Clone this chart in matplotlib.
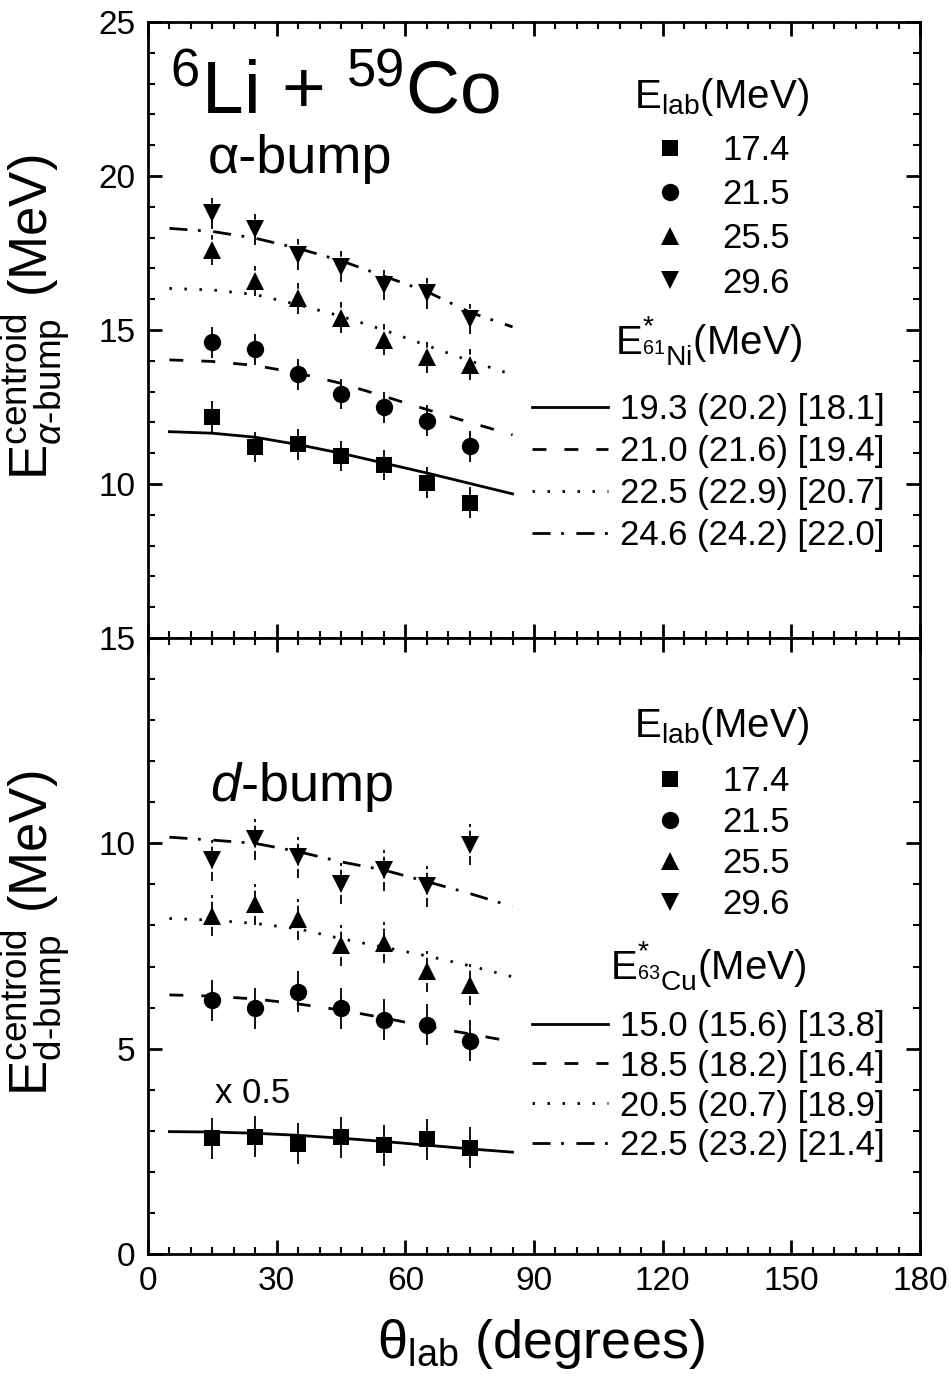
import numpy as np
import matplotlib
matplotlib.use('Agg')
import matplotlib.pyplot as plt
from matplotlib.ticker import MultipleLocator

plt.rcParams['font.family'] = ['Liberation Sans', 'DejaVu Sans']
plt.rcParams['mathtext.fontset'] = 'custom'
plt.rcParams['mathtext.rm'] = 'Liberation Sans'
plt.rcParams['mathtext.it'] = 'Liberation Sans:italic'
plt.rcParams['mathtext.bf'] = 'Liberation Sans:bold'

# lab angles of the data points and of the model curves
angles = [15, 25, 35, 45, 55, 65, 75]
theory_angles = [5, 15, 25, 35, 45, 55, 65, 75, 85]
e_lab = ['17.4', '21.5', '25.5', '29.6']

# alpha-bump centroids (MeV)
alpha_174 = [12.18, 11.20, 11.29, 10.91, 10.62, 10.04, 9.39]
alpha_215 = [14.60, 14.38, 13.56, 12.92, 12.49, 12.05, 11.23]
alpha_255 = [17.60, 16.59, 16.03, 15.40, 14.68, 14.11, 13.87]
alpha_296 = [18.79, 18.27, 17.44, 17.06, 16.46, 16.19, 15.36]
alpha_err = [0.5, 0.5, 0.5, 0.5, 0.5, 0.5, 0.5]

# alpha-bump model curves
alpha_th_193 = [11.70, 11.65, 11.52, 11.28, 11.00, 10.68, 10.36, 10.02, 9.68]
alpha_th_210 = [14.03, 13.98, 13.85, 13.60, 13.27, 12.85, 12.42, 12.00, 11.60]
alpha_th_225 = [16.35, 16.30, 16.15, 15.82, 15.45, 15.00, 14.50, 14.00, 13.55]
alpha_th_246 = [18.30, 18.20, 17.98, 17.65, 17.25, 16.75, 16.25, 15.58, 15.10]
alpha_th_labels = ['19.3 (20.2) [18.1]', '21.0 (21.6) [19.4]',
                   '22.5 (22.9) [20.7]', '24.6 (24.2) [22.0]']

# d-bump centroids (MeV), 17.4 MeV set scaled by 0.5
d_174 = [2.82, 2.86, 2.69, 2.84, 2.65, 2.79, 2.59]
d_215 = [6.18, 5.98, 6.39, 5.98, 5.70, 5.58, 5.19]
d_255 = [8.24, 8.52, 8.15, 7.52, 7.58, 6.88, 6.56]
d_296 = [9.59, 10.10, 9.66, 9.02, 9.35, 8.96, 9.97]
d_err = [0.5, 0.5, 0.5, 0.5, 0.5, 0.5, 0.5]

# d-bump model curves
d_th_150 = [2.98, 2.97, 2.94, 2.89, 2.82, 2.74, 2.65, 2.56, 2.48]
d_th_185 = [6.31, 6.28, 6.21, 6.09, 5.94, 5.75, 5.54, 5.36, 5.17]
d_th_205 = [8.17, 8.13, 8.05, 7.92, 7.68, 7.47, 7.26, 7.02, 6.75]
d_th_225 = [10.15, 10.08, 10.00, 9.80, 9.55, 9.35, 9.07, 8.78, 8.46]
d_th_labels = ['15.0 (15.6) [13.8]', '18.5 (18.2) [16.4]',
               '20.5 (20.7) [18.9]', '22.5 (23.2) [21.4]']

markers = [('s', 11), ('o', 12.5), ('^', 13.5), ('v', 13.5)]
linestyles = ['-', (0, (5, 6.5)), (0, (0.9, 4.5)), (0, (6.5, 3.8, 1.0, 4.5))]

fig = plt.figure(figsize=(9.51, 13.91), dpi=100)
ax1 = fig.add_axes([0.1556, 0.5413, 0.8118, 0.4429])
ax2 = fig.add_axes([0.1556, 0.0985, 0.8118, 0.4428])


def style(ax, ymin, ymax, labels):
    ax.set_xlim(0, 180)
    ax.set_ylim(ymin, ymax)
    ax.xaxis.set_major_locator(MultipleLocator(30))
    ax.xaxis.set_minor_locator(MultipleLocator(5))
    ax.set_yticks(np.arange(ymin, ymax + 1, 5))
    ax.set_yticklabels(labels)
    ax.yaxis.set_minor_locator(MultipleLocator(1))
    ax.tick_params(which='both', direction='in', top=True, right=True,
                   labelsize=24, pad=9)
    ax.tick_params(which='major', length=10, width=2)
    ax.tick_params(which='minor', length=5, width=1.5)
    for s in ax.spines.values():
        s.set_linewidth(2)


def draw(ax, data, errs, curves):
    handles = []
    for (m, ms), y in zip(markers, data):
        eb = ax.errorbar(angles, y, yerr=errs, fmt=m, ms=ms, mew=0,
                         color='black', ecolor='black', elinewidth=1.3,
                         capsize=0, zorder=3)
        if m in ('^', 'v'):
            eb[2][0].set_linestyle((0, (5, 2)))
        handles.append(eb[0])
    lines = []
    for ls, y in zip(linestyles, curves):
        ln, = ax.plot(theory_angles, y, color='black', lw=2.0, ls=ls, zorder=2)
        lines.append(ln)
    return handles, lines


style(ax1, 5, 25, ['', '10', '15', '20', '25'])
style(ax2, 0, 15, ['0', '5', '10', '15'])
ax1.tick_params(labelbottom=False)

h1, l1 = draw(ax1, [alpha_174, alpha_215, alpha_255, alpha_296], alpha_err,
              [alpha_th_193, alpha_th_210, alpha_th_225, alpha_th_246])
h2, l2 = draw(ax2, [d_174, d_215, d_255, d_296], d_err,
              [d_th_150, d_th_185, d_th_205, d_th_225])

leg_kw = dict(frameon=False, fontsize=25, title_fontsize=29, numpoints=1,
              borderpad=0, borderaxespad=0)
mark_kw = dict(loc='upper center', handlelength=1.0, handletextpad=1.0)
line_kw = dict(loc='upper left', handlelength=2.2, handletextpad=0.35)

lg = ax1.legend(h1, e_lab, bbox_to_anchor=(0.743, 0.913), labelspacing=0.32,
                title=r'E$_{\rm lab}$(MeV)', **mark_kw, **leg_kw)
lg._legend_box.sep = 12
ax1.add_artist(lg)
lg = ax1.legend(l1, alpha_th_labels, bbox_to_anchor=(0.497, 0.525),
                labelspacing=0.26, title=r'E$^{*}_{{}^{61}\rm Ni}$(MeV)',
                **line_kw, **leg_kw)
lg._legend_box.sep = 18

lg = ax2.legend(h2, e_lab, bbox_to_anchor=(0.743, 0.891), labelspacing=0.23,
                title=r'E$_{\rm lab}$(MeV)', **mark_kw, **leg_kw)
lg._legend_box.sep = 13
ax2.add_artist(lg)
lg = ax2.legend(l2, d_th_labels, bbox_to_anchor=(0.497, 0.51),
                labelspacing=0.2, title=r'E$^{*}_{{}^{63}\rm Cu}$(MeV)',
                **line_kw, **leg_kw)
lg._legend_box.sep = 12

ax1.text(0.028, 0.852, r'$^{6}$Li + $^{59}$Co', transform=ax1.transAxes,
         fontsize=54, va='baseline')
ax1.text(0.078, 0.755, 'α-bump', transform=ax1.transAxes,
         fontsize=39, va='baseline')
ax2.text(0.08, 0.736, r'$d$-bump', transform=ax2.transAxes,
         fontsize=39, va='baseline')
ax2.text(0.087, 0.245, 'x 0.5', transform=ax2.transAxes,
         fontsize=25, va='baseline')

ax1.set_ylabel(r'E$^{\rm centroid}_{\alpha\text{-bump}}$ (MeV)', fontsize=38)
ax1.yaxis.set_label_coords(-0.097, 0.52)
ax2.set_ylabel(r'E$^{\rm centroid}_{\text{d-bump}}$ (MeV)', fontsize=38)
ax2.yaxis.set_label_coords(-0.097, 0.52)
ax2.set_xlabel(r'θ$_{\rm lab}$ (degrees)', fontsize=39)
ax2.xaxis.set_label_coords(0.509, -0.103)

fig.savefig('out.png', dpi=100)
